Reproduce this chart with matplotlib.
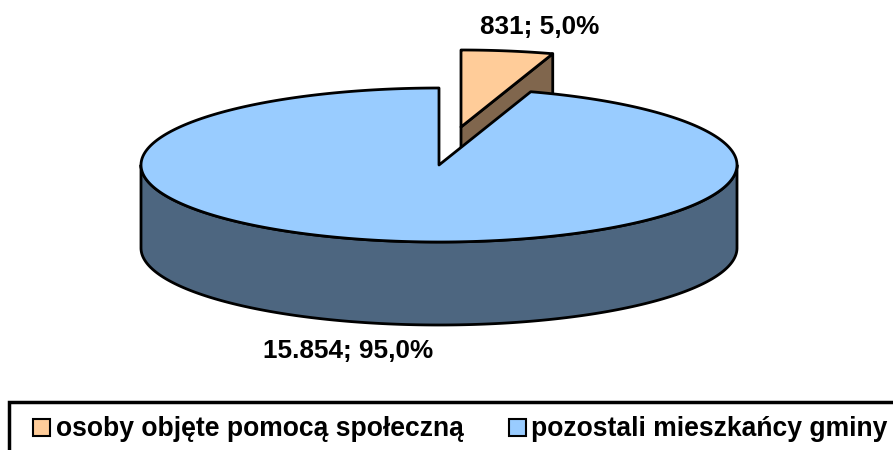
import numpy as np
import matplotlib
matplotlib.use('Agg')
import matplotlib.pyplot as plt
from matplotlib.patches import Polygon, Rectangle

plt.rcParams['font.family'] = ['Liberation Sans', 'DejaVu Sans']

# Dane
etykiety = ['osoby objęte pomocą społeczną', 'pozostali mieszkańcy gminy']
wartosci = [831, 15854]
opisy = ['831; 5,0%', '15.854; 95,0%']
kolory = ['#FFCC99', '#99CCFF']
kolory_bok = ['#80664D', '#4D6680']

# Geometria w pikselach
W, H = 893, 450
cx, cy, rx, ry, glebokosc = 439, 165, 298, 77, 83
dx, dy = 22, -38  # wysuniecie mniejszego wycinka
lw = 2

fig = plt.figure(figsize=(W/100, H/100), dpi=100)
ax = fig.add_axes([0, 0, 1, 1])
ax.set_xlim(0, W)
ax.set_ylim(H, 0)
ax.axis('off')


def luk(t0, t1, x0=cx, y0=cy):
    t = np.radians(np.linspace(t0, t1, 300))
    return np.column_stack([x0 + rx*np.sin(t), y0 - ry*np.cos(t)])


kat = 360*wartosci[0]/sum(wartosci)

# Maly wycinek: sciana boczna i wierzch
x1, y1 = cx + dx, cy + dy
kr = luk(kat, kat, x1, y1)[0]
sciana = [(x1, y1), tuple(kr), (kr[0], kr[1]+glebokosc), (x1, y1+glebokosc)]
ax.add_patch(Polygon(sciana, fc=kolory_bok[0], ec='black', lw=lw, joinstyle='round'))
gora = np.vstack([[(x1, y1)], luk(0, kat, x1, y1)])
ax.add_patch(Polygon(gora, fc=kolory[0], ec='black', lw=lw, joinstyle='round'))

# Duzy wycinek: bok i wierzch
przod = luk(90, 270)
bok = np.vstack([przod, (przod + [0, glebokosc])[::-1]])
ax.add_patch(Polygon(bok, fc=kolory_bok[1], ec='black', lw=lw, joinstyle='round'))
gora = np.vstack([[(cx, cy)], luk(kat, 360)])
ax.add_patch(Polygon(gora, fc=kolory[1], ec='black', lw=lw, joinstyle='round'))

# Opisy danych
ax.text(540, 27, opisy[0], fontsize=18.85, fontweight='bold', ha='center', va='center')
ax.text(348, 350.5, opisy[1], fontsize=18.85, fontweight='bold', ha='center', va='center')

# Legenda
ax.add_patch(Rectangle((9, 402), 900, 60, fc='white', ec='black', lw=2.5))
for x_m, x_t, k, e in zip([33, 509], [56, 531], kolory, etykiety):
    ax.add_patch(Rectangle((x_m, 419), 17, 17, fc=k, ec='black', lw=1.5))
    ax.text(x_t, 429, e, fontsize=19.1, fontweight='bold', ha='left', va='center')

fig.savefig('out.png', dpi=100)
